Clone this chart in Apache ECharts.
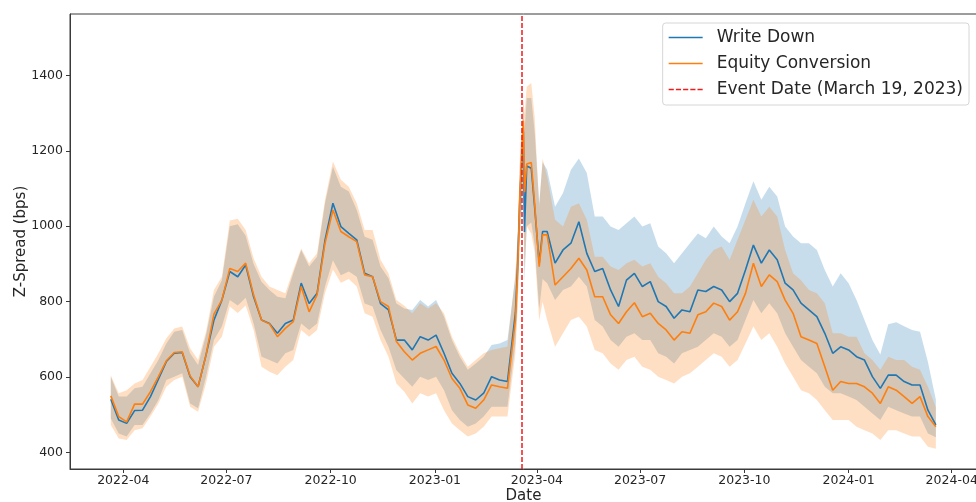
<!DOCTYPE html>
<html>
<head>
<meta charset="utf-8">
<title>Z-Spread</title>
<script src="https://cdn.jsdelivr.net/npm/echarts@6/dist/echarts.min.js"></script>
<style>
  html, body { margin: 0; padding: 0; background: #fff; }
  #chart { width: 976px; height: 502px; }
</style>
</head>
<body>
<div id="chart"></div>
<script>
// Observation dates (weekly, with extra points around the event)
const dates = [
  '2022-03-21','2022-03-28','2022-04-04','2022-04-11','2022-04-18','2022-04-25','2022-05-02','2022-05-09','2022-05-16','2022-05-23',
  '2022-05-30','2022-06-06','2022-06-13','2022-06-20','2022-06-27','2022-07-04','2022-07-11','2022-07-18','2022-07-25','2022-08-01',
  '2022-08-08','2022-08-15','2022-08-22','2022-08-29','2022-09-05','2022-09-12','2022-09-19','2022-09-26','2022-10-03','2022-10-10',
  '2022-10-17','2022-10-24','2022-10-31','2022-11-07','2022-11-14','2022-11-21','2022-11-28','2022-12-05','2022-12-12','2022-12-19',
  '2022-12-26','2023-01-02','2023-01-09','2023-01-16','2023-01-23','2023-01-30','2023-02-06','2023-02-13','2023-02-20','2023-02-27',
  '2023-03-06','2023-03-13','2023-03-15','2023-03-17','2023-03-20','2023-03-21','2023-03-23','2023-03-27','2023-03-30','2023-04-03',
  '2023-04-06','2023-04-10','2023-04-17','2023-04-24','2023-05-01','2023-05-08','2023-05-15','2023-05-22','2023-05-29','2023-06-05',
  '2023-06-12','2023-06-19','2023-06-26','2023-07-03','2023-07-10','2023-07-17','2023-07-24','2023-07-31','2023-08-07','2023-08-14',
  '2023-08-21','2023-08-28','2023-09-04','2023-09-11','2023-09-18','2023-09-25','2023-10-02','2023-10-09','2023-10-16','2023-10-23',
  '2023-10-30','2023-11-06','2023-11-13','2023-11-20','2023-11-27','2023-12-04','2023-12-11','2023-12-18','2023-12-25','2024-01-01',
  '2024-01-08','2024-01-15','2024-01-22','2024-01-29','2024-02-05','2024-02-12','2024-02-19','2024-02-26','2024-03-04','2024-03-11',
  '2024-03-18'
];

// Write Down: mean, upper and lower band (bps)
const writeDown = [
  541,486,477,511,512,548,594,641,663,665,
  601,574,658,751,804,880,866,897,813,751,
  742,716,742,751,849,795,822,963,1061,999,
  981,964,875,866,795,778,698,698,672,707,
  698,711,663,610,583,548,539,557,601,592,
  588,770,900,1080,1250,985,1160,1154,1050,902,
  986,986,902,937,955,1012,928,880,888,831,
  787,857,875,840,853,800,787,756,778,773,
  831,827,840,831,800,822,884,950,902,937,
  911,849,831,796,778,760,716,663,680,672,
  654,645,601,570,605,605,588,579,579,512,
  473
];
const writeDownUpper = [
  601,548,548,570,574,610,645,689,720,725,
  663,632,711,813,857,1000,1005,975,900,853,
  831,813,809,875,937,893,919,1061,1158,1105,
  1092,1043,972,964,893,862,795,782,778,804,
  787,804,760,698,654,619,636,654,685,689,
  698,866,970,1170,1330,1250,1340,1340,1250,1060,
  1170,1150,1052,1088,1150,1180,1141,1026,1026,999,
  990,1008,1026,999,1008,946,928,902,928,955,
  981,968,999,973,955,999,1061,1119,1070,1105,
  1079,999,973,955,955,937,884,840,875,849,
  804,751,698,660,740,745,735,725,720,640,
  540
];
const writeDownLower = [
  490,450,442,473,473,503,539,592,601,610,
  530,517,601,698,734,804,790,810,742,654,
  645,636,663,672,742,725,742,840,910,870,
  880,866,795,787,725,680,618,596,574,601,
  592,601,565,512,486,468,477,495,521,521,
  521,689,800,990,1120,850,1000,1010,950,780,
  860,849,804,831,840,866,840,751,734,698,
  680,707,716,698,698,663,654,636,663,672,
  680,698,716,707,680,698,751,804,769,796,
  769,716,680,645,627,610,574,557,557,548,
  539,521,503,486,521,512,503,495,495,450,
  440
];

// Equity Conversion: mean, upper and lower band (bps)
const equityConversion = [
  550,495,481,528,528,561,601,643,665,667,
  603,574,658,767,804,888,880,902,818,751,
  741,707,729,747,840,773,818,955,1043,986,
  972,959,871,866,800,787,694,667,645,663,
  672,681,645,596,570,526,517,539,579,574,
  570,751,880,1090,1280,1090,1165,1169,1060,893,
  977,977,844,866,888,915,884,813,813,765,
  742,773,797,760,769,742,725,698,720,716,
  765,773,796,787,751,773,822,902,840,871,
  853,804,769,707,698,689,627,565,588,583,
  583,574,557,530,574,565,548,530,548,495,
  468
];
const equityConversionUpper = [
  605,557,565,583,592,627,663,703,729,734,
  676,645,720,831,866,1015,1020,990,915,866,
  840,831,822,884,941,902,928,1070,1172,1123,
  1105,1061,990,990,911,875,804,789,769,796,
  782,796,769,707,663,627,645,663,672,676,
  681,875,980,1180,1340,1300,1370,1380,1290,1050,
  1180,1132,1017,999,1052,1061,1017,919,919,893,
  884,902,911,893,902,866,849,822,822,840,
  875,911,937,946,911,964,1017,1070,1026,1052,
  1026,937,875,857,831,822,796,716,716,707,
  707,663,645,619,654,645,645,627,619,574,
  520
];
const equityConversionLower = [
  473,437,433,459,464,495,530,574,592,601,
  521,508,583,680,707,787,770,790,725,627,
  614,605,627,645,725,707,725,822,885,850,
  860,840,769,760,698,654,583,561,530,557,
  548,557,512,477,459,442,450,468,495,495,
  495,663,780,970,1110,880,1000,980,930,750,
  800,751,680,716,751,760,734,672,663,636,
  619,645,654,627,619,601,592,583,601,610,
  627,645,663,654,627,645,689,734,698,716,
  680,636,601,565,557,539,512,486,486,486,
  468,459,450,433,459,459,450,442,442,415,
  410
];

const eventDate = '2023-03-19';
const yTicks = [400, 600, 800, 1000, 1200, 1400];
const xTicks = ['2022-04-01','2022-07-01','2022-10-01','2023-01-01','2023-04-01','2023-07-01','2023-10-01','2024-01-01','2024-04-01'];

const BLUE = '#1f77b4';
const ORANGE = '#ff7f0e';
const EVENT_RED = '#ee1c1c';
const FONT = 'DejaVu Sans';

// Legend glyphs: a solid stroke and a dashed stroke (34 x 1.6 aspect)
const SOLID_ICON = 'path://M0,0H340V16H0Z';
const DASH_ICON = 'path://M0,0H50V15H0Z M70,0H120V15H70Z M140,0H190V15H140Z M210,0H260V15H210Z M280,0H330V15H280Z';

// Dates are placed on a numeric axis as millisecond timestamps
const toTime = s => +echarts.number.parseDate(s);
const times = dates.map(toTime);
const pairs = values => times.map((t, i) => [t, values[i]]);

// Confidence band drawn as one filled polygon between the lower and upper edges
function band(lower, upper, fill) {
  return {
    type: 'custom',
    silent: true,
    clip: true,
    data: times.map((t, i) => [t, lower[i], upper[i]]),
    encode: { x: 0, y: [1, 2] },
    renderItem: (params, api) => {
      if (params.dataIndex !== 0) return null;
      const top = times.map((t, i) => api.coord([t, upper[i]]));
      const bottom = times.map((t, i) => api.coord([t, lower[i]])).reverse();
      return {
        type: 'polygon',
        shape: { points: top.concat(bottom) },
        style: { fill: fill, stroke: null }
      };
    }
  };
}

function meanLine(name, values, color) {
  return {
    name, type: 'line', data: pairs(values), symbol: 'none', showSymbol: false,
    lineStyle: { color, width: 1.6 }, itemStyle: { color },
    emphasis: { disabled: true }
  };
}

const chart = echarts.init(document.getElementById('chart'), null, { renderer: 'canvas' });

chart.setOption({
  animation: false,
  backgroundColor: '#fff',
  grid: {
    left: 70, right: -1, top: 14, bottom: 33,
    outerBoundsMode: 'none',
    containLabel: false,
    show: true, borderColor: '#3a3a3a', borderWidth: 1, backgroundColor: 'transparent'
  },
  legend: {
    data: [
      { name: 'Write Down', icon: SOLID_ICON },
      { name: 'Equity Conversion', icon: SOLID_ICON },
      { name: 'Event Date (March 19, 2023)', icon: DASH_ICON }
    ],
    orient: 'vertical',
    right: 7, top: 23,
    padding: [6, 6, 7, 6],
    itemGap: 9,
    itemWidth: 34, itemHeight: 14,
    backgroundColor: 'rgba(255,255,255,0.85)',
    borderColor: '#d6d6d6', borderWidth: 1, borderRadius: 3,
    textStyle: { fontFamily: FONT, fontSize: 17, color: '#262626', padding: [0, 0, 0, 9] }
  },
  xAxis: {
    type: 'value',
    min: toTime('2022-02-13'),
    max: toTime('2024-04-23') + 7 * 3600 * 1000,
    name: 'Date',
    nameLocation: 'middle',
    nameGap: 20,
    nameMoveOverlap: false,
    nameTextStyle: { fontFamily: FONT, fontSize: 15, color: '#262626' },
    axisLine: { show: true, onZero: false, lineStyle: { color: '#3a3a3a', width: 1 } },
    axisTick: { show: true, length: 4, lineStyle: { color: '#3a3a3a' }, customValues: xTicks.map(toTime) },
    axisLabel: {
      customValues: xTicks.map(toTime),
      margin: 5,
      fontFamily: FONT, fontSize: 12.5, color: '#262626',
      formatter: v => echarts.time.format(v, '{yyyy}-{MM}', false)
    },
    splitLine: { show: false }
  },
  yAxis: {
    type: 'value',
    min: 356, max: 1563,
    name: 'Z-Spread (bps)',
    nameLocation: 'middle',
    nameGap: 41,
    nameMoveOverlap: false,
    nameRotate: 90,
    nameTextStyle: { fontFamily: FONT, fontSize: 15, color: '#262626' },
    axisLine: { show: true, lineStyle: { color: '#3a3a3a', width: 1 } },
    axisTick: { show: true, length: 4, lineStyle: { color: '#3a3a3a' }, customValues: yTicks },
    axisLabel: {
      customValues: yTicks,
      margin: 7,
      fontFamily: FONT, fontSize: 12.5, color: '#262626',
      formatter: v => String(v)
    },
    splitLine: { show: false }
  },
  series: [
    band(writeDownLower, writeDownUpper, 'rgba(31,119,180,0.25)'),
    meanLine('Write Down', writeDown, BLUE),
    band(equityConversionLower, equityConversionUpper, 'rgba(255,127,14,0.25)'),
    meanLine('Equity Conversion', equityConversion, ORANGE),
    {
      name: 'Event Date (March 19, 2023)',
      type: 'line', data: [], symbol: 'none',
      lineStyle: { color: EVENT_RED, width: 1.5, type: [5, 2] },
      itemStyle: { color: EVENT_RED },
      markLine: {
        silent: true, symbol: 'none', animation: false,
        label: { show: false },
        lineStyle: { color: EVENT_RED, width: 1.5, type: [5, 2] },
        data: [{ xAxis: toTime(eventDate) }]
      }
    }
  ]
});
</script>
</body>
</html>
